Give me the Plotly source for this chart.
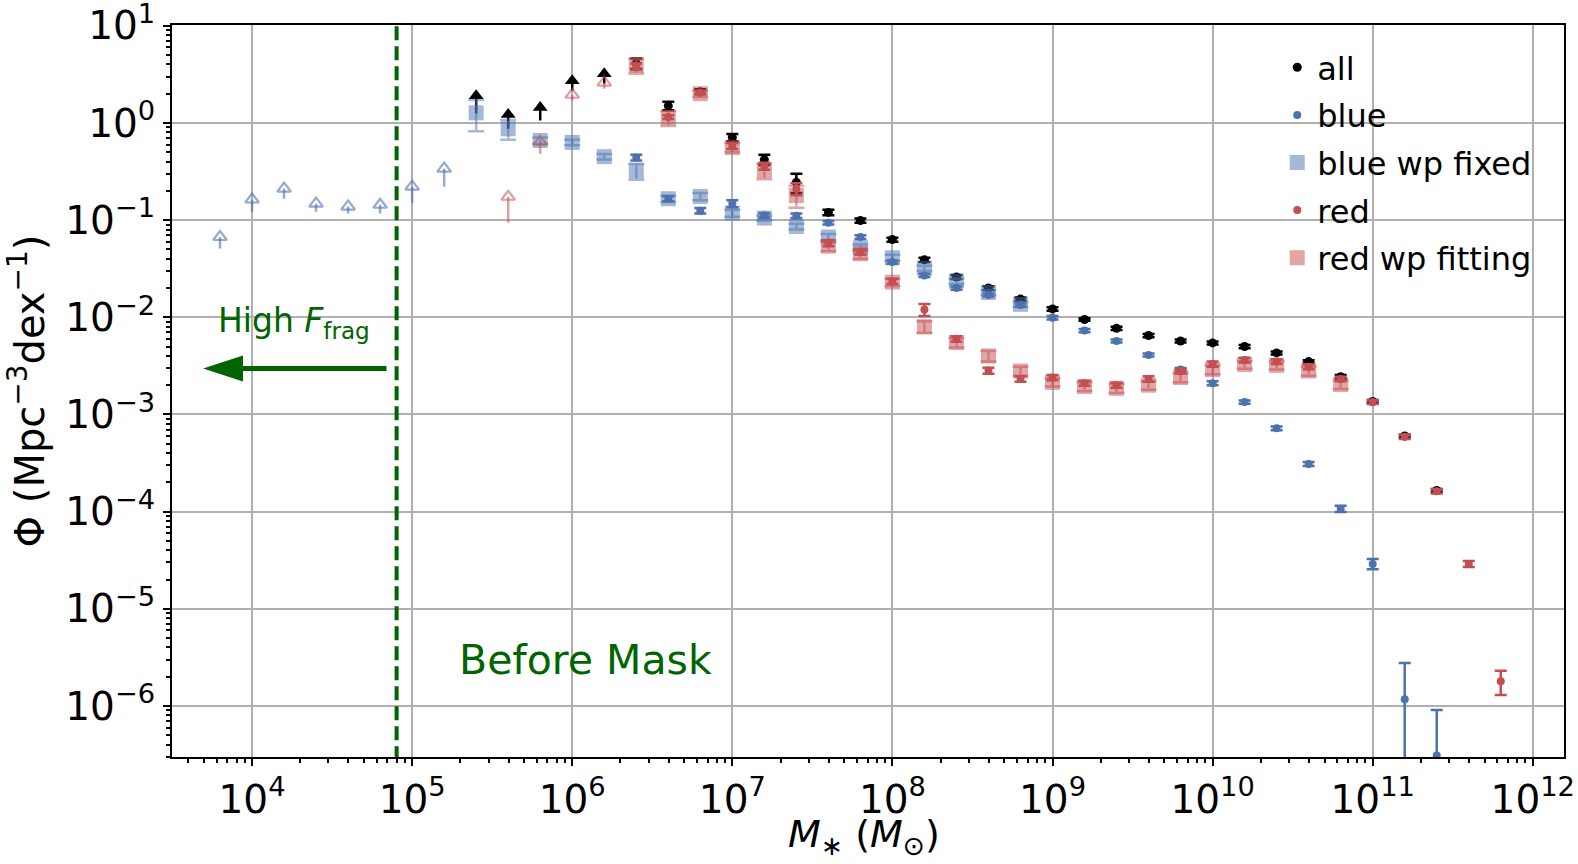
import numpy as np
import plotly.graph_objects as go

# ---------------- data (log10 stellar mass bins, Phi values) ----------------
all_logm = [6.4, 6.6, 6.8, 7.0, 7.2, 7.4, 7.6, 7.8, 8.0, 8.2, 8.4, 8.6, 8.8, 9.0, 9.2,
            9.4, 9.6, 9.8, 10.0, 10.2, 10.4, 10.6, 10.8, 11.0, 11.2, 11.4]
all_phi = [4.1, 1.5, 2.1, 0.71, 0.42, 0.245, 0.12, 0.099, 0.063, 0.039, 0.026, 0.020,
           0.0154, 0.0122, 0.0095, 0.0077, 0.0065, 0.0057, 0.00545, 0.0050, 0.0043,
           0.0035, 0.00245, 0.00136, 0.0006, 0.000165]
all_err = [0.5, 0.15, 0.12, 0.06, 0.05, 0.055, 0.008, 0.005, 0.003, 0.002, 0.0012, 0.0009,
           0.0006, 0.0005, 0.0003, 0.0003, 0.00025, 0.0002, 0.0002, 0.0002, 0.00015,
           0.00012, 0.0001, 0.00005, 0.00002, 0.000006]

all_lim_logm = [5.4, 5.6, 5.8, 6.0, 6.2]
all_lim_phi = [1.25, 0.87, 1.06, 2.15, 2.54]
all_lim_tip = [1.91, 1.22, 1.44, 2.72, 3.2]

blue_logm = [6.4, 6.6, 6.8, 7.0, 7.2, 7.4, 7.6, 7.8, 8.0, 8.2, 8.4, 8.6, 8.8, 9.0, 9.2,
             9.4, 9.6, 9.8, 10.0, 10.2, 10.4, 10.6, 10.8, 11.0, 11.2, 11.4]
blue_phi = [0.44, 0.166, 0.125, 0.148, 0.112, 0.111, 0.094, 0.067, 0.037, 0.027, 0.020,
            0.017, 0.0134, 0.0099, 0.0073, 0.0057, 0.0041, 0.0029, 0.0021, 0.00134,
            0.00072, 0.00031, 0.000107, 2.9e-5, 1.17e-6, 3.1e-7]
blue_err = [0.03, 0.01, 0.008, 0.012, 0.006, 0.006, 0.004, 0.003, 0.0015, 0.001, 0.0008,
            0.0006, 0.0005, 0.0004, 0.0003, 0.0002, 0.00015, 0.0001, 0.0001, 0.00005,
            0.00003, 0.000015, 0.000008, 3.5e-6, 1.6e-6, 6e-7]

blue_lim_logm = [3.8, 4.0, 4.2, 4.4, 4.6, 4.8, 5.0, 5.2]
blue_lim_phi = [0.051, 0.122, 0.166, 0.122, 0.117, 0.117, 0.151, 0.221]
blue_lim_tip = [0.067, 0.163, 0.211, 0.148, 0.138, 0.144, 0.221, 0.339]

bwp_logm = [5.4, 5.6, 5.8, 6.0, 6.2, 6.4, 6.6, 6.8, 7.0, 7.2, 7.4, 7.6, 7.8, 8.0, 8.2,
            8.4, 8.6, 8.8]
bwp_phi = [1.27, 0.87, 0.66, 0.63, 0.45, 0.32, 0.166, 0.175, 0.118, 0.105, 0.086, 0.067,
           0.052, 0.041, 0.032, 0.0235, 0.018, 0.0136]
bwp_err = [0.45, 0.2, 0.05, 0.04, 0.03, 0.06, 0.012, 0.015, 0.01, 0.006, 0.006, 0.005,
           0.004, 0.003, 0.002, 0.0015, 0.001, 0.0008]

red_logm = [6.4, 6.6, 6.8, 7.0, 7.2, 7.4, 7.6, 7.8, 8.0, 8.2, 8.4, 8.6, 8.8, 9.0, 9.2,
            9.4, 9.6, 9.8, 10.0, 10.2, 10.4, 10.6, 10.8, 11.0, 11.2, 11.4, 11.6, 11.8]
red_phi = [3.8, 1.15, 2.05, 0.58, 0.36, 0.21, 0.058, 0.047, 0.0235, 0.012, 0.0060,
           0.00283, 0.00232, 0.0024, 0.00209, 0.0020, 0.00232, 0.00279, 0.0033, 0.00363,
           0.0035, 0.0031, 0.00232, 0.00134, 0.00059, 0.000162, 2.9e-5, 1.8e-6]
red_err = [0.3, 0.05, 0.08, 0.04, 0.03, 0.03, 0.004, 0.003, 0.0015, 0.0017, 0.0004,
           0.0002, 0.00015, 0.00015, 0.00012, 0.00012, 0.00015, 0.00015, 0.0002, 0.0002,
           0.0002, 0.00018, 0.00012, 0.00006, 0.00003, 0.000008, 2e-6, 5e-7]

red_lim_logm = [5.6, 5.8, 6.0, 6.2]
red_lim_phi = [0.094, 0.48, 1.70, 2.25]
red_lim_tip = [0.174, 0.64, 1.95, 2.6]

rwp_logm = [6.4, 6.6, 6.8, 7.0, 7.2, 7.4, 7.6, 7.8, 8.0, 8.2, 8.4, 8.6, 8.8, 9.0, 9.2,
            9.4, 9.6, 9.8, 10.0, 10.2, 10.4, 10.6, 10.8]
rwp_phi = [3.9, 1.13, 2.0, 0.56, 0.323, 0.179, 0.054, 0.045, 0.023, 0.0080, 0.0055,
           0.0040, 0.0028, 0.00214, 0.00194, 0.00186, 0.0020, 0.0024, 0.0029, 0.00326,
           0.0032, 0.0028, 0.00203]
rwp_err = [0.7, 0.2, 0.15, 0.06, 0.06, 0.045, 0.006, 0.005, 0.002, 0.0011, 0.0006,
           0.0005, 0.0003, 0.0002, 0.0002, 0.0002, 0.0002, 0.00025, 0.0003, 0.0003,
           0.0003, 0.0003, 0.0002]

mask_mass = 8e4
x_tick_vals = [1e4, 1e5, 1e6, 1e7, 1e8, 1e9, 1e10, 1e11, 1e12]
x_tick_text = ["10<sup>4</sup>", "10<sup>5</sup>", "10<sup>6</sup>", "10<sup>7</sup>",
               "10<sup>8</sup>", "10<sup>9</sup>", "10<sup>10</sup>", "10<sup>11</sup>",
               "10<sup>12</sup>"]
y_tick_vals = [1e-6, 1e-5, 1e-4, 1e-3, 1e-2, 1e-1, 1e0, 1e1]
y_tick_text = ["10<sup>\u22126</sup>", "10<sup>\u22125</sup>", "10<sup>\u22124</sup>",
               "10<sup>\u22123</sup>", "10<sup>\u22122</sup>", "10<sup>\u22121</sup>",
               "10<sup>0</sup>", "10<sup>1</sup>"]

# ---------------- styling ----------------
FONT = "DejaVu Sans"
BLACK = "black"
BLUE = "#4C72B0"
RED = "#C44E52"
BLUE_A = "rgba(76,114,176,0.5)"
RED_A = "rgba(196,78,82,0.5)"
BLUE_AR = "rgba(76,114,176,0.6)"
RED_AR = "rgba(196,78,82,0.55)"
GREEN = "#006400"


def m(logm):
    return np.power(10.0, np.array(logm, dtype=float))


def clip_minus(phi, err):
    phi = np.array(phi, dtype=float)
    err = np.array(err, dtype=float)
    return np.minimum(err, phi * 0.999)


def errbar(logm, phi, err, name, color, ecolor, symbol, size, cap, group, legend=True):
    return go.Scatter(
        x=m(logm), y=phi, mode="markers", name=name, legendgroup=group,
        showlegend=legend,
        marker=dict(symbol=symbol, size=size, color=color, line=dict(width=0)),
        error_y=dict(type="data", symmetric=False, array=err,
                     arrayminus=clip_minus(phi, err), color=ecolor,
                     thickness=2.5, width=cap),
    )


def limits(logm, phi, tip, color, symbol, size, group, lw=0):
    phi = np.array(phi, dtype=float)
    tip = np.array(tip, dtype=float)
    return go.Scatter(
        x=m(logm), y=tip, mode="markers", showlegend=False, legendgroup=group,
        marker=dict(symbol=symbol, size=size, color=color,
                    line=dict(width=lw, color=color)),
        error_y=dict(type="data", symmetric=False, array=np.zeros_like(tip),
                     arrayminus=tip - phi, color=color, thickness=2.5, width=0),
        hoverinfo="skip",
    )


fig = go.Figure()

# mask line and high-fragmentation arrow (decorations)
fig.add_trace(go.Scatter(x=[mask_mass, mask_mass], y=[1e-8, 1e3], mode="lines",
                         line=dict(color=GREEN, width=4, dash="14px,6px"),
                         showlegend=False, hoverinfo="skip"))
fig.add_trace(go.Scatter(x=[10 ** 4.84, 10 ** 3.78], y=[10 ** -2.528, 10 ** -2.528],
                         mode="lines", line=dict(color=GREEN, width=5),
                         showlegend=False, hoverinfo="skip"))
fig.add_trace(go.Scatter(x=[10 ** 3.694], y=[10 ** -2.528], mode="markers",
                         marker=dict(symbol="arrow", angle=-90, size=42, color=GREEN,
                                     line=dict(width=0)),
                         showlegend=False, hoverinfo="skip"))

# all
fig.add_trace(errbar(all_logm, all_phi, all_err, "all", BLACK, BLACK, "circle", 9, 6, "g1"))
fig.add_trace(limits(all_lim_logm, all_lim_phi, all_lim_tip, BLACK, "triangle-up", 13, "g1"))
# blue
fig.add_trace(errbar(blue_logm, blue_phi, blue_err, "blue", BLUE, BLUE, "circle", 8, 6, "g2"))
fig.add_trace(limits(blue_lim_logm, blue_lim_phi, blue_lim_tip, BLUE_AR, "triangle-up-open",
                     12, "g2", lw=2.2))
# blue wp fixed
fig.add_trace(errbar(bwp_logm, bwp_phi, bwp_err, "blue wp fixed", BLUE_A, BLUE_A, "square",
                     15, 8, "g3"))
# red
fig.add_trace(errbar(red_logm, red_phi, red_err, "red", RED, RED, "circle", 8, 6, "g4"))
fig.add_trace(limits(red_lim_logm, red_lim_phi, red_lim_tip, RED_AR, "triangle-up-open",
                     12, "g4", lw=2.2))
# red wp fitting
fig.add_trace(errbar(rwp_logm, rwp_phi, rwp_err, "red wp fitting", RED_A, RED_A, "square",
                     15, 8, "g5"))

x_minor = [k * 10.0 ** e for e in range(3, 13) for k in range(2, 10)]
y_minor = [k * 10.0 ** e for e in range(-7, 1) for k in range(2, 10)]

axis_common = dict(
    type="log", showline=True, linecolor="black", linewidth=2, mirror=True,
    showgrid=True, gridcolor="#b0b0b0", gridwidth=1.5, zeroline=False,
    ticks="outside", ticklen=7, tickwidth=2, tickcolor="black",
    tickfont=dict(family=FONT, size=39, color="black"), automargin=False,
    ticklabeloverflow="allow",
)

fig.update_layout(
    width=1578, height=864,
    margin=dict(l=172, r=14, t=25, b=107),
    paper_bgcolor="white", plot_bgcolor="white",
    font=dict(family=FONT, color="black"),
    xaxis=dict(
        **axis_common, range=[3.50, 12.195], tickmode="array",
        tickvals=x_tick_vals, ticktext=x_tick_text,
        minor=dict(tickvals=x_minor, ticks="outside", ticklen=4, tickwidth=1.5,
                   tickcolor="black", showgrid=False),
    ),
    yaxis=dict(
        **axis_common, range=[-6.525, 1.008], tickmode="array",
        tickvals=y_tick_vals, ticktext=y_tick_text,
        minor=dict(tickvals=y_minor, ticks="outside", ticklen=4, tickwidth=1.5,
                   tickcolor="black", showgrid=False),
        title=dict(text="\u03a6 (Mpc<sup>\u22123</sup>dex<sup>\u22121</sup>)",
                   font=dict(family=FONT, size=40), standoff=8),
    ),
    legend=dict(x=0.794, y=0.9795, xanchor="left", yanchor="top",
                bgcolor="rgba(0,0,0,0)", borderwidth=0,
                font=dict(family=FONT, size=32, color="black"),
                traceorder="grouped", tracegroupgap=3),
    showlegend=True,
    annotations=[
        dict(text="<i>M</i><sub>\u2217</sub> (<i>M</i><sub>\u2299</sub>)",
             xref="paper", yref="paper", x=0.497, y=-0.072,
             xanchor="center", yanchor="top", showarrow=False,
             font=dict(family=FONT, size=38, color="black")),
        dict(text="High <i>F</i><sub>frag</sub>", xref="paper", yref="paper",
             x=0.0875, y=0.593, xanchor="center", yanchor="middle", showarrow=False,
             font=dict(family=FONT, size=33, color=GREEN)),
        dict(text="Before Mask", xref="paper", yref="paper",
             x=0.2972, y=0.1325, xanchor="center", yanchor="middle", showarrow=False,
             font=dict(family=FONT, size=41, color=GREEN)),
    ],
)

fig.write_html("out.html",
               config={"displayModeBar": False},
               post_script="document.body.style.margin='0px';"
                           "document.body.style.overflow='hidden';")
